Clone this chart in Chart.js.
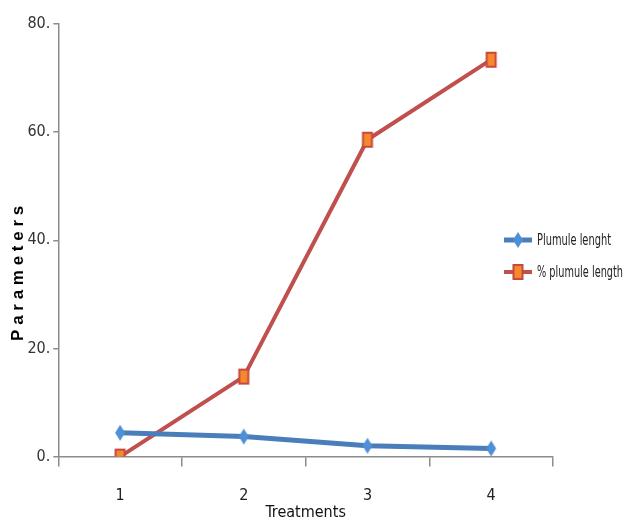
<!DOCTYPE html>
<html>
<head>
<meta charset="utf-8">
<script src="https://cdn.jsdelivr.net/npm/chart.js@4"></script>
<style>
  html, body { margin: 0; padding: 0; background: #fff; }
  #wrap { width: 631px; height: 522px; position: relative; }
</style>
</head>
<body>
<div id="wrap"><canvas id="chart"></canvas></div>
<script>
// chart data
const treatments = ['1', '2', '3', '4'];
const plumuleLenght = [4.4, 3.7, 2.0, 1.5];
const percentPlumuleLength = [0, 14.8, 58.6, 73.4];
const yTicks = [0, 20, 40, 60, 80];
const seriesNames = ['Plumule lenght', '% plumule length'];

const FONT = "'Liberation Sans Narrow', 'DejaVu Sans Condensed', 'Liberation Sans', sans-serif";

// marker images (slightly tall, like the original)
function makeMarker(kind) {
    const c = document.createElement('canvas');
    c.width = 14; c.height = 18;
    const g = c.getContext('2d');
    if (kind === 'diamond') {
        g.fillStyle = '#4f8fd6';
        g.beginPath();
        g.moveTo(7, 1); g.lineTo(12, 9); g.lineTo(7, 17); g.lineTo(2, 9);
        g.closePath(); g.fill();
    } else {
        g.fillStyle = '#f58a2c';
        g.strokeStyle = '#c8473f';
        g.lineWidth = 2;
        g.fillRect(2.5, 2, 9, 14);
        g.strokeRect(2.5, 2, 9, 14);
    }
    return c;
}
const diamond = makeMarker('diamond');
const square = makeMarker('square');

const legendPlugin = {
    id: 'sideLegend',
    afterDraw(chart) {
        const ctx = chart.ctx;
        const items = [
            { name: seriesNames[0], color: '#4a7ebb', width: 5, img: diamond, w: 74 },
            { name: seriesNames[1], color: '#c0504d', width: 4, img: square, w: 86 }
        ];
        const x0 = 504, y0 = 240, gap = 32;
        ctx.save();
        items.forEach((it, i) => {
            const y = y0 + i * gap;
            ctx.strokeStyle = it.color;
            ctx.lineWidth = it.width;
            ctx.beginPath();
            ctx.moveTo(x0, y); ctx.lineTo(x0 + 28, y);
            ctx.stroke();
            ctx.drawImage(it.img, x0 + 14 - 7, y - 9);
            ctx.fillStyle = '#222';
            ctx.font = '15px ' + FONT;
            ctx.textBaseline = 'middle';
            ctx.fillText(it.name, x0 + 33, y + 1, it.w);
        });
        ctx.restore();
    }
};

new Chart(document.getElementById('chart'), {
    type: 'line',
    data: {
        labels: treatments,
        datasets: [
            {
                label: seriesNames[0],
                data: plumuleLenght,
                borderColor: '#4a7ebb',
                borderWidth: 5,
                pointStyle: diamond,
                pointRadius: 8,
                tension: 0
            },
            {
                label: seriesNames[1],
                data: percentPlumuleLength,
                borderColor: '#c0504d',
                borderWidth: 4,
                pointStyle: square,
                pointRadius: 8,
                tension: 0
            }
        ]
    },
    options: {
        responsive: true,
        maintainAspectRatio: false,
        animation: false,
        layout: { padding: { top: 24, right: 78, left: 8, bottom: 0 } },
        plugins: {
            legend: { display: false },
            tooltip: { enabled: false }
        },
        scales: {
            x: {
                offset: true,
                grid: {
                    display: true,
                    offset: true,
                    drawOnChartArea: false,
                    tickLength: 10,
                    color: '#8c8c8c',
                    lineWidth: 1.5
                },
                border: { color: '#8c8c8c', width: 1.5 },
                ticks: {
                    padding: 20,
                    color: '#222',
                    font: { family: FONT, size: 16 }
                },
                title: {
                    display: true,
                    text: 'Treatments',
                    color: '#111',
                    padding: { top: -23, bottom: 0 },
                    font: { family: FONT, size: 16 }
                }
            },
            y: {
                min: 0,
                max: 80,
                afterBuildTicks(axis) {
                    axis.ticks = yTicks.map(v => ({ value: v }));
                },
                grid: {
                    display: true,
                    drawOnChartArea: false,
                    tickLength: 5,
                    color: '#8c8c8c',
                    lineWidth: 1.5
                },
                border: { color: '#8c8c8c', width: 1.5 },
                ticks: {
                    padding: 3,
                    color: '#333',
                    font: { family: FONT, size: 16 },
                    callback: v => v + '.'
                },
                title: {
                    display: true,
                    text: 'P a r a m e t e r s              ',
                    color: '#000',
                    padding: { top: 0, bottom: -4 },
                    font: { family: "'Liberation Sans', Arial, sans-serif", size: 17, weight: 'bold' }
                }
            }
        }
    },
    plugins: [legendPlugin]
});
</script>
</body>
</html>
